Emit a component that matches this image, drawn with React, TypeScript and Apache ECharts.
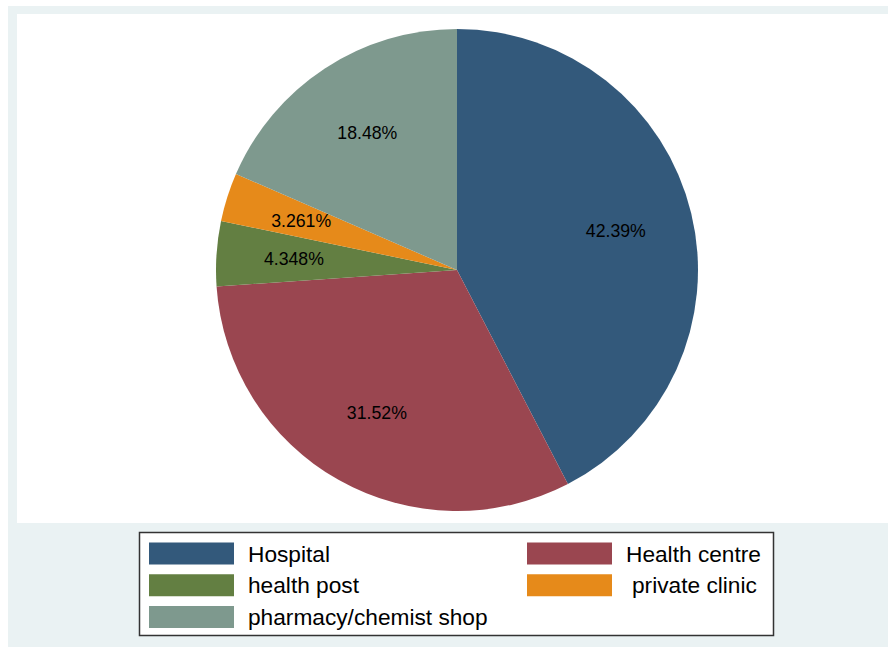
import React, { useEffect, useRef } from "react";
import * as echarts from "echarts";

const categories = ["Hospital", "Health centre", "health post", "private clinic", "pharmacy/chemist shop"];
const counts = [39, 29, 4, 3, 17];
const colors = ["#33597B", "#9A4650", "#637F42", "#E68A1A", "#7E998E"];
const leftLegend = ["Hospital", "health post", "pharmacy/chemist shop"];
const rightLegend = ["Health centre", "private clinic"];

const FONT = "'Liberation Sans', Arial, Helvetica, sans-serif";

export default function App() {
  const ref = useRef<HTMLDivElement>(null);
  useEffect(() => {
    document.body.style.margin = "0";
    const chart = echarts.init(ref.current!, null, { renderer: "svg" });
    const total = counts.reduce((a, b) => a + b, 0);
    const data = categories.map((name, i) => ({
      name,
      value: counts[i],
      itemStyle: { color: colors[i] },
    }));
    const fmt = (v: number) => {
      const p = (v / total) * 100;
      return Number(p.toPrecision(4)).toString() + "%";
    };
    const legendBase = {
      orient: "vertical" as const,
      padding: 0,
      itemWidth: 85,
      itemHeight: 22,
      itemGap: 8.7,
      icon: "rect",
      selectedMode: false,
      textStyle: { fontSize: 22.7, color: "#000", fontFamily: FONT, padding: [0, 0, 0, 9] },
    };
    chart.setOption({
      animation: false,
      backgroundColor: "#ffffff",
      graphic: [
        { type: "rect", shape: { x: 8, y: 6, width: 880, height: 641 }, style: { fill: "#EAF2F3" }, z: -10, silent: true },
        { type: "rect", shape: { x: 17, y: 14, width: 871, height: 509 }, style: { fill: "#ffffff" }, z: -9, silent: true },
        { type: "rect", shape: { x: 139.5, y: 532.5, width: 634, height: 103 }, style: { fill: "#ffffff", stroke: "#333", lineWidth: 1.5 }, z: -8, silent: true },
      ],
      legend: [
        { ...legendBase, left: 149, top: 542, data: leftLegend },
        {
          ...legendBase,
          left: 527,
          top: 542,
          data: rightLegend.map((n) =>
            n === "private clinic" ? { name: n, textStyle: { padding: [0, 0, 0, 15] } } : { name: n }
          ),
        },
      ],
      series: [
        {
          type: "pie",
          center: [457, 270],
          radius: [0, 241],
          startAngle: 90,
          clockwise: true,
          data,
          label: { show: false },
          labelLine: { show: false },
          silent: true,
        },
        {
          type: "pie",
          center: [457, 270],
          radius: [80, 241],
          startAngle: 90,
          clockwise: true,
          data: categories.map((name, i) => ({ name, value: counts[i] })),
          itemStyle: { color: "rgba(0,0,0,0)" },
          label: {
            show: true,
            position: "inside",
            color: "#000",
            fontSize: 17.7,
            fontFamily: FONT,
            formatter: (p: any) => fmt(p.value),
          },
          labelLine: { show: false },
          silent: true,
          legendHoverLink: false,
        },
      ],
    });
    return () => chart.dispose();
  }, []);
  return <div ref={ref} style={{ width: 888, height: 647 }} />;
}
